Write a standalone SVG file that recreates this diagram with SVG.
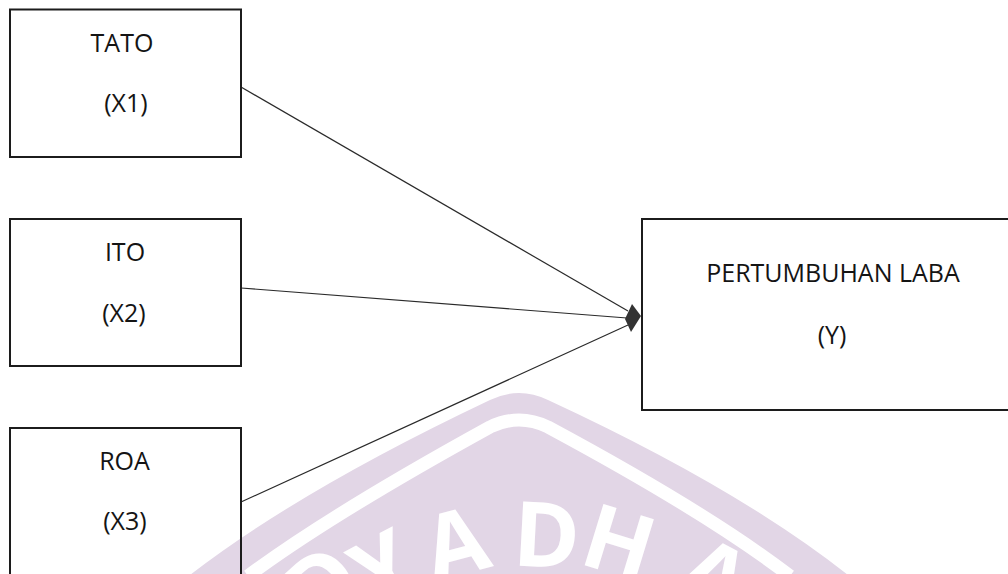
<svg xmlns="http://www.w3.org/2000/svg" width="1008" height="574" viewBox="0 0 1008 574">
  <style>
    .box { fill: none; stroke: #1c1c1c; stroke-width: 2; }
    .edge { fill: none; stroke: #2a2a2a; stroke-width: 1.2; }
    .lbl { font-family: "Open Sans", "Liberation Sans", sans-serif; font-size: 25px; fill: #141414; text-anchor: middle; }
    .wm { font-family: "Open Sans", "Liberation Sans", sans-serif; font-size: 90px; font-weight: 700; fill: #ffffff; text-anchor: middle; }
  </style>
  <rect width="1008" height="574" fill="#ffffff"/>

  <g id="watermark">
    <path d="M 190 575 Q 300 490 490 400 Q 519 386 548 400 Q 738 488 848 575 Z" fill="#e2d6e6"/>
    <path d="M 248 576 Q 330 515 490 427 Q 519 413 548 427 Q 708 513 790 576" fill="none" stroke="#ffffff" stroke-width="13"/>
    <text class="wm" x="343" y="608" transform="rotate(-42 343 608)">D</text>
    <text class="wm" x="398" y="596" transform="rotate(-28 398 596)">Y</text>
    <text class="wm" x="464" y="574" transform="rotate(-15 464 574)">A</text>
    <text class="wm" x="545" y="567" transform="rotate(3 545 567)">D</text>
    <text class="wm" x="610" y="573" transform="rotate(17 610 573)">H</text>
    <text class="wm" x="700" y="604" transform="rotate(28 700 604)">A</text>
  </g>

  <g id="connectors">
    <line class="edge" x1="241" y1="87" x2="628" y2="311"/>
    <line class="edge" x1="241" y1="288" x2="627" y2="318"/>
    <line class="edge" x1="241" y1="502" x2="628" y2="325"/>
    <polygon points="632,304 641,316 631,332 625,319" fill="#333333"/>
  </g>

  <g id="node-tato">
    <rect class="box" x="10" y="9.5" width="231" height="147.5"/>
    <text class="lbl" x="122" y="52">TATO</text>
    <text class="lbl" x="126" y="112">(X1)</text>
  </g>

  <g id="node-ito">
    <rect class="box" x="10" y="219" width="231" height="147"/>
    <text class="lbl" x="125" y="261">ITO</text>
    <text class="lbl" x="124" y="322">(X2)</text>
  </g>

  <g id="node-roa">
    <rect class="box" x="10" y="428" width="231" height="160"/>
    <text class="lbl" x="124.5" y="470">ROA</text>
    <text class="lbl" x="125" y="530">(X3)</text>
  </g>

  <g id="node-laba">
    <rect class="box" x="642" y="219" width="380" height="191"/>
    <text class="lbl" x="833" y="282">PERTUMBUHAN LABA</text>
    <text class="lbl" x="832" y="344">(Y)</text>
  </g>
</svg>
